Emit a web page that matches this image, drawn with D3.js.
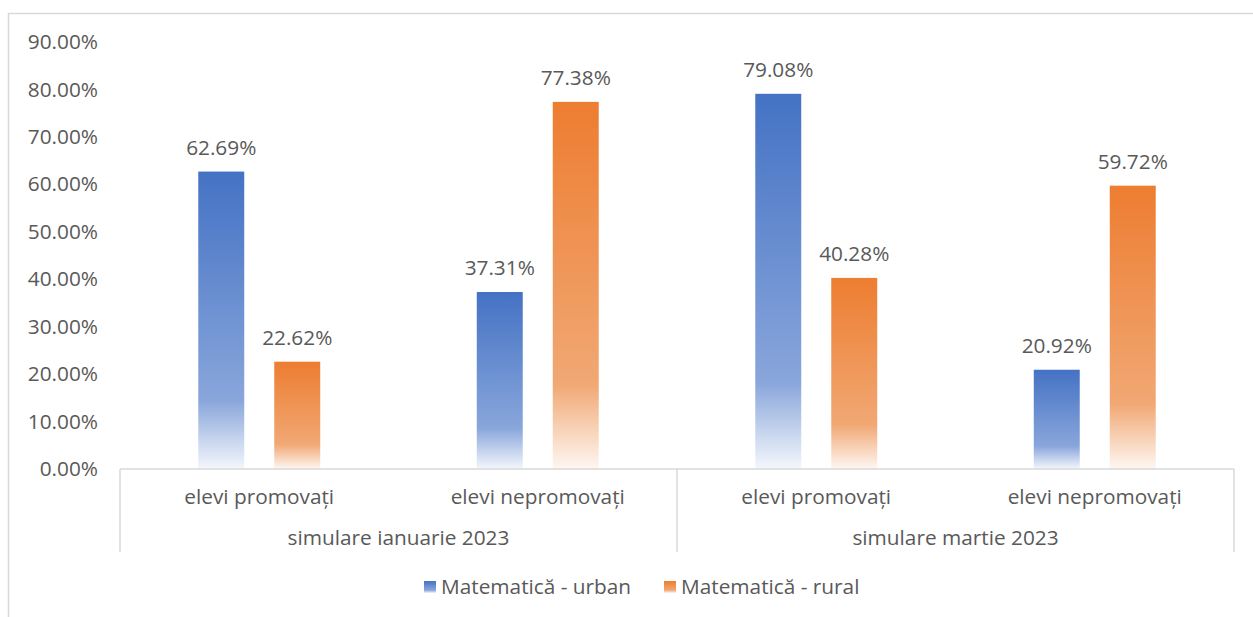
<!DOCTYPE html>
<html>
<head>
<meta charset="utf-8">
<script src="https://cdn.jsdelivr.net/npm/d3@7"></script>
<style>
  body { margin: 0; background: #fff; }
  text { font-family: "Open Sans", sans-serif; fill: #595959; }
</style>
</head>
<body>
<div id="chart"></div>
<script>
// data
var groups = ['simulare ianuarie 2023', 'simulare martie 2023'];
var subCategories = ['elevi promovați', 'elevi nepromovați'];
var seriesNames = ['Matematică - urban', 'Matematică - rural'];
var urbanValues = [62.69, 37.31, 79.08, 20.92];
var ruralValues = [22.62, 77.38, 40.28, 59.72];
var yTicks = [0, 10, 20, 30, 40, 50, 60, 70, 80, 90];

var width = 1253, height = 617;
var margin = { left: 120, right: 19, top: 42, bottom: 148 };
var baseY = height - margin.bottom;
var fontSize = '20.8px';

var svg = d3.select('#chart').append('svg')
    .attr('width', width)
    .attr('height', height);

// gradients
var defs = svg.append('defs');
var grads = [
  { id: 'gUrban', stops: [[0, '#4472C4'], [0.77, '#89A6DB'], [1, '#F4F7FC']] },
  { id: 'gRural', stops: [[0, '#ED7D31'], [0.77, '#F1A874'], [1, '#FEF7F2']] }
];
grads.forEach(function(g) {
  var lg = defs.append('linearGradient')
      .attr('id', g.id)
      .attr('x1', 0).attr('y1', 0).attr('x2', 0).attr('y2', 1);
  g.stops.forEach(function(s) {
    lg.append('stop').attr('offset', s[0]).attr('stop-color', s[1]);
  });
});
var fills = ['url(#gUrban)', 'url(#gRural)'];

// outer border
svg.append('rect')
    .attr('x', 8.5).attr('y', 13.5)
    .attr('width', width + 10).attr('height', height + 10)
    .attr('fill', 'none').attr('stroke', '#d9d9d9').attr('stroke-width', 1.5);

// rows of data
var rows = [];
groups.forEach(function(g, gi) {
  subCategories.forEach(function(c, ci) {
    var i = gi * subCategories.length + ci;
    rows.push({ key: g + '|' + c, group: g, cat: c, values: [urbanValues[i], ruralValues[i]] });
  });
});

var x0 = d3.scaleBand()
    .domain(rows.map(function(d) { return d.key; }))
    .range([margin.left, width - margin.right])
    .padding(0);

var x1 = d3.scaleBand()
    .domain(seriesNames)
    .range([0, x0.bandwidth()])
    .paddingInner(0.395)
    .paddingOuter(1.03);

var y = d3.scaleLinear()
    .domain([0, 90])
    .range([baseY, margin.top]);

// y axis labels
var yAxis = d3.axisLeft(y)
    .tickValues(yTicks)
    .tickSize(0)
    .tickPadding(0)
    .tickFormat(function(d) { return d.toFixed(2) + '%'; });

var yG = svg.append('g')
    .attr('transform', 'translate(98,0)')
    .call(yAxis);
yG.select('.domain').remove();
yG.selectAll('text')
    .style('font-size', fontSize)
    .attr('fill', '#595959')
    .attr('font-family', '"Open Sans", sans-serif');

// bars
var barG = svg.append('g').selectAll('g')
    .data(rows)
    .enter().append('g')
    .attr('transform', function(d) { return 'translate(' + x0(d.key) + ',0)'; });

barG.selectAll('rect')
    .data(function(d) { return d.values.map(function(v, i) { return { name: seriesNames[i], value: v, i: i }; }); })
    .enter().append('rect')
    .attr('x', function(d) { return x1(d.name); })
    .attr('y', function(d) { return y(d.value); })
    .attr('width', x1.bandwidth())
    .attr('height', function(d) { return baseY - y(d.value); })
    .attr('fill', function(d) { return fills[d.i]; });

barG.selectAll('text.lbl')
    .data(function(d) { return d.values.map(function(v, i) { return { name: seriesNames[i], value: v }; }); })
    .enter().append('text')
    .attr('class', 'lbl')
    .attr('x', function(d) { return x1(d.name) + x1.bandwidth() / 2; })
    .attr('y', function(d) { return y(d.value) - 17; })
    .attr('text-anchor', 'middle')
    .style('font-size', fontSize)
    .text(function(d) { return d.value.toFixed(2) + '%'; });

// category axis lines
var axisCol = '#d9d9d9';
svg.append('line')
    .attr('x1', margin.left).attr('x2', width - margin.right)
    .attr('y1', baseY).attr('y2', baseY)
    .attr('stroke', axisCol).attr('stroke-width', 1.5);

var groupEdges = [margin.left];
groups.forEach(function(g) {
  var keys = rows.filter(function(r) { return r.group === g; });
  groupEdges.push(x0(keys[keys.length - 1].key) + x0.bandwidth());
});
svg.selectAll('line.sep')
    .data(groupEdges)
    .enter().append('line')
    .attr('class', 'sep')
    .attr('x1', function(d) { return d; }).attr('x2', function(d) { return d; })
    .attr('y1', baseY).attr('y2', baseY + 83)
    .attr('stroke', axisCol).attr('stroke-width', 1.5);

// category labels
svg.selectAll('text.cat')
    .data(rows)
    .enter().append('text')
    .attr('class', 'cat')
    .attr('x', function(d) { return x0(d.key) + x0.bandwidth() / 2; })
    .attr('y', baseY + 35)
    .attr('text-anchor', 'middle')
    .style('font-size', fontSize)
    .text(function(d) { return d.cat; });

svg.selectAll('text.grp')
    .data(groups)
    .enter().append('text')
    .attr('class', 'grp')
    .attr('x', function(d, i) { return (groupEdges[i] + groupEdges[i + 1]) / 2; })
    .attr('y', baseY + 76)
    .attr('text-anchor', 'middle')
    .style('font-size', fontSize)
    .text(function(d) { return d; });

// legend
var legendX = [424, 664];
var leg = svg.selectAll('g.legend')
    .data(seriesNames)
    .enter().append('g')
    .attr('class', 'legend')
    .attr('transform', function(d, i) { return 'translate(' + legendX[i] + ',581)'; });

leg.append('rect')
    .attr('width', 12).attr('height', 12)
    .attr('fill', function(d, i) { return fills[i]; });

leg.append('text')
    .attr('x', 17)
    .attr('y', 13)
    .style('font-size', fontSize)
    .text(function(d) { return d; });
</script>
</body>
</html>
